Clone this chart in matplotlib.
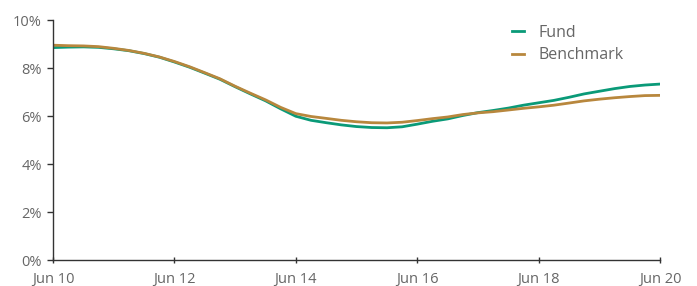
import matplotlib
matplotlib.use('Agg')
import matplotlib.pyplot as plt
import matplotlib.dates as mdates
import pandas as pd

# quarterly readings, Jun 2010 - Jun 2020 (%)
dates = pd.date_range('2010-06-30', '2020-06-30', freq='QE-DEC')
fund = [8.85, 8.87, 8.88, 8.86, 8.80, 8.72, 8.60, 8.45, 8.25, 8.03,
        7.78, 7.53, 7.22, 6.92, 6.63, 6.30, 5.99, 5.82, 5.72, 5.63,
        5.56, 5.52, 5.51, 5.55, 5.66, 5.78, 5.88, 6.02, 6.14, 6.23,
        6.33, 6.45, 6.55, 6.65, 6.78, 6.92, 7.03, 7.14, 7.23, 7.29, 7.33]
benchmark = [8.95, 8.93, 8.92, 8.89, 8.82, 8.73, 8.61, 8.46, 8.27, 8.05,
             7.80, 7.55, 7.24, 6.95, 6.67, 6.36, 6.10, 5.98, 5.90, 5.82,
             5.76, 5.72, 5.71, 5.74, 5.81, 5.89, 5.96, 6.06, 6.13, 6.18,
             6.25, 6.32, 6.38, 6.45, 6.54, 6.63, 6.70, 6.76, 6.81, 6.85, 6.86]
yticks = [0, 2, 4, 6, 8, 10]

plt.rcParams['font.family'] = ['Open Sans', 'DejaVu Sans']
grey = '#666666'

fig = plt.figure(figsize=(6.97, 2.86), dpi=100)
ax = fig.add_axes([53/697, 26/286, 607/697, 240/286])

ax.plot(dates, fund, color='#0a9a78', lw=2.0, label='Fund')
ax.plot(dates, benchmark, color='#b8873d', lw=2.0, label='Benchmark')

ax.set_ylim(0, 10)
ax.set_yticks(yticks)
ax.set_yticklabels([f'{v}%' for v in yticks])
ax.set_xlim(dates[0], dates[-1])
ax.set_xticks(dates[::8])
ax.xaxis.set_major_formatter(mdates.DateFormatter('%b %y'))

for s in ['top', 'right']:
    ax.spines[s].set_visible(False)
for s in ['left', 'bottom']:
    ax.spines[s].set_color('#333333')
    ax.spines[s].set_linewidth(1)
ax.tick_params(axis='y', length=4, width=1, color='#333333', labelcolor=grey, labelsize=10.5, pad=4)
ax.tick_params(axis='x', direction='inout', length=4, width=1, color='#333333', labelcolor=grey, labelsize=10.5, pad=7)

leg = ax.legend(loc='upper left', bbox_to_anchor=(0.733, 1.04), frameon=False,
                handlelength=0.75, handletextpad=0.9, labelspacing=0.4, fontsize=11.5)
for t in leg.get_texts():
    t.set_color(grey)

fig.savefig('out.png', dpi=100)
